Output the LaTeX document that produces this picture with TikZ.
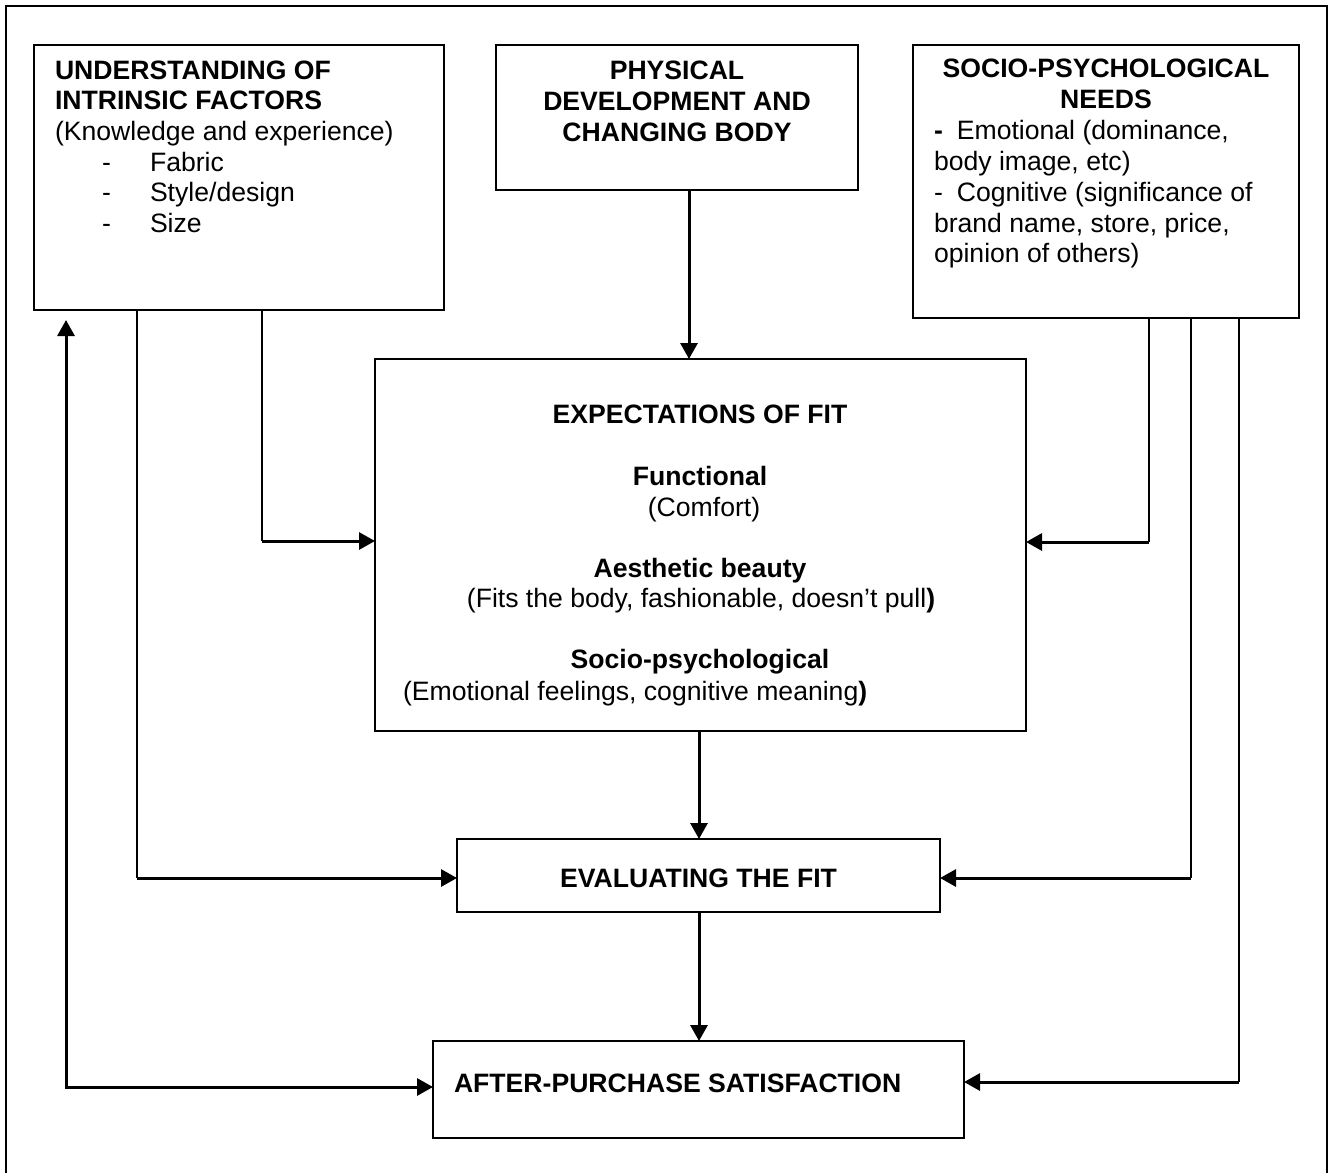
\documentclass[tikz,border=0pt]{standalone}
\usepackage{fontspec}
\setmainfont{Liberation Sans}
\usetikzlibrary{arrows.meta}
\begin{document}
\begin{tikzpicture}[x=1pt,y=-1pt,
  box/.style={draw, line width=1.5pt, inner sep=0pt, outer sep=0pt, rectangle},
  conn/.style={line width=3pt, -{Triangle[length=16pt,width=17pt]}},
  thinline/.style={line width=1.5pt},
  connboth/.style={line width=3pt, {Triangle[length=16pt,width=17pt]}-{Triangle[length=16pt,width=17pt]}},
  frame/.style={line width=1.8pt},
  txt/.style={inner sep=0pt, outer sep=0pt, font=\fontsize{26.6}{30.6}\selectfont},
  bt/.style={inner sep=0pt, outer sep=0pt, font=\fontsize{26.6}{30.6}\selectfont\bfseries}]
\useasboundingbox (0,0) rectangle (1330,1173);
% outer frame (open at the bottom)
\draw[frame] (6,1173) -- (6,6) -- (1327,6) -- (1327,1173);

% boxes
\node[box, minimum width=410pt, minimum height=265pt] (A) at (239,177.5) {};
\node[box, minimum width=362pt, minimum height=145pt] (B) at (677,117.5) {};
\node[box, minimum width=386pt, minimum height=273pt] (C) at (1106,181.5) {};
\node[box, minimum width=651pt, minimum height=372pt] (D) at (700.5,545) {};
\node[box, minimum width=483pt, minimum height=73pt] (E) at (698.5,875.5) {};
\node[box, minimum width=531pt, minimum height=97pt] (F) at (698.5,1089.5) {};

% texts box A
\node[bt, anchor=base west] (a1t) at (55,79) {UNDERSTANDING OF};
\node[bt, anchor=base west] (a2t) at (55,109.6) {INTRINSIC FACTORS};
\node[txt, anchor=base west] (a3t) at (55,140.2) {(Knowledge and experience)};
\node[txt, anchor=base west] (a4d) at (102,171) {-};
\node[txt, anchor=base west] (a4t) at (150,171) {Fabric};
\node[txt, anchor=base west] (a5d) at (102,201.6) {-};
\node[txt, anchor=base west] (a5t) at (150,201.6) {Style/design};
\node[txt, anchor=base west] (a6d) at (102,232.2) {-};
\node[txt, anchor=base west] (a6t) at (150,232.2) {Size};

% texts box B
\node[bt, anchor=base] (b1t) at (677,79) {PHYSICAL};
\node[bt, anchor=base] (b2t) at (677,110) {DEVELOPMENT AND};
\node[bt, anchor=base] (b3t) at (677,141) {CHANGING BODY};

% texts box C
\node[bt, anchor=base] (c1t) at (1106,77) {SOCIO-PSYCHOLOGICAL};
\node[bt, anchor=base] (c2t) at (1106,108) {NEEDS};
\node[txt, anchor=base west] (c3t) at (934,139.5) {\textbf{-}\hspace{14pt}Emotional (dominance,};
\node[txt, anchor=base west] (c4t) at (934,170.5) {body image, etc)};
\node[txt, anchor=base west] (c5t) at (934,201.5) {-\hspace{14pt}Cognitive (significance of};
\node[txt, anchor=base west] (c6t) at (934,232) {brand name, store, price,};
\node[txt, anchor=base west] (c7t) at (934,262.5) {opinion of others)};

% texts box D
\node[bt, anchor=base] (d1t) at (700,423) {EXPECTATIONS OF FIT};
\node[bt, anchor=base] (d2t) at (700,485) {Functional};
\node[txt, anchor=base] (d3t) at (704,516) {(Comfort)};
\node[bt, anchor=base] (d4t) at (700,577) {Aesthetic beauty};
\node[txt, anchor=base] (d5t) at (701,607.5) {(Fits the body, fashionable, doesn’t pull\textbf{)}};
\node[bt, anchor=base] (d6t) at (700,668) {Socio-psychological};
\node[txt, anchor=base west] (d7t) at (403,700) {(Emotional feelings, cognitive meaning\textbf{)}};

% texts boxes E, F
\node[bt, anchor=base] (e1t) at (698.5,887) {EVALUATING THE FIT};
\node[bt, anchor=base west] (f1t) at (454,1092) {AFTER-PURCHASE SATISFACTION};

% routing coordinates
\coordinate (xb) at (689,0);
\coordinate (xm) at (699,0);
\coordinate (p1) at (66,1087);
\coordinate (p2) at (137,878);
\coordinate (p3) at (262,541);
\coordinate (q1) at (1149,542);
\coordinate (q2) at (1191,878);
\coordinate (q3) at (1239,1082);

% connectors: thin vertical drops, thick arrowed horizontals
\draw[thinline] (p3 |- A.south) -- (p3);
\draw[conn] (p3) -- (D.west |- p3);
\draw[thinline] (p2 |- A.south) -- (p2);
\draw[conn] (p2) -- (E.west |- p2);
\draw[thinline] (q1 |- C.south) -- (q1);
\draw[conn] (q1) -- (D.east |- q1);
\draw[thinline] (q2 |- C.south) -- (q2);
\draw[conn] (q2) -- (E.east |- q2);
\draw[thinline] (q3 |- C.south) -- (q3);
\draw[conn] (q3) -- (F.east |- q3);
% feedback loop
\draw[connboth, shorten <=10pt] (p1 |- A.south) -- (p1) -- (F.west |- p1);
% main column
\draw[conn] (xb |- B.south) -- (xb |- D.north);
\draw[conn] (xm |- D.south) -- (xm |- E.north);
\draw[conn] (xm |- E.south) -- (xm |- F.north);
\end{tikzpicture}
\end{document}
